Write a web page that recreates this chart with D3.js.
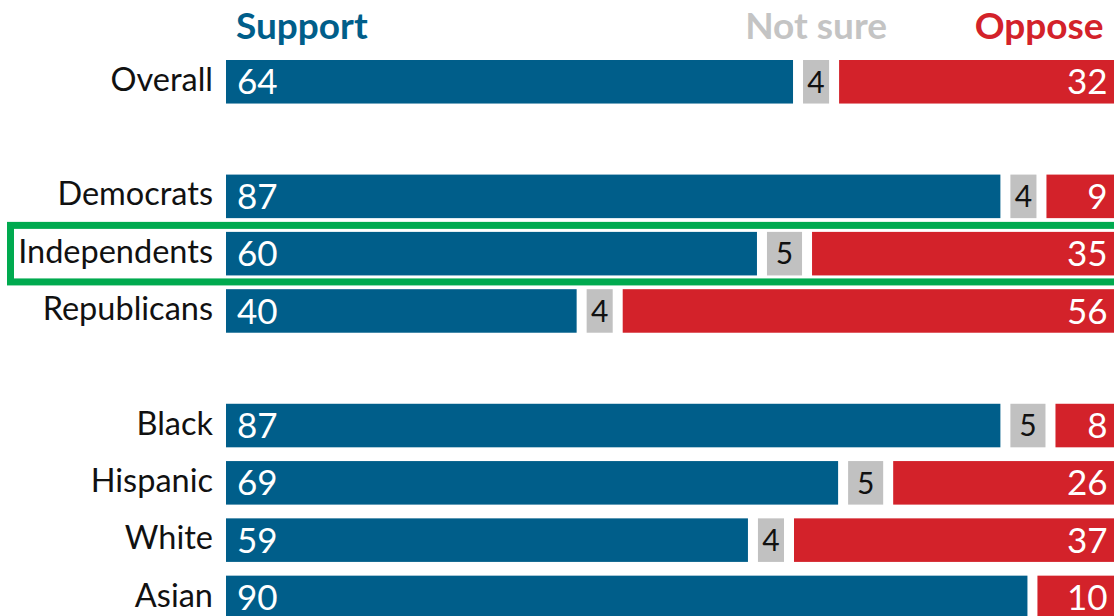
<!DOCTYPE html>
<html>
<head>
<meta charset="utf-8">
<script src="https://cdn.jsdelivr.net/npm/d3@7"></script>
<style>
  body { margin: 0; background: #fff; }
  svg { display: block; overflow: hidden; }
  text { font-family: Lato, "Noto Sans", sans-serif; }
</style>
</head>
<body>
<svg id="chart"></svg>
<script>
// data
var categories = ["Overall", "Democrats", "Independents", "Republicans", "Black", "Hispanic", "White", "Asian"];
var support = [64, 87, 60, 40, 87, 69, 59, 90];
var notSure = [4, 4, 5, 4, 5, 5, 4, 0];
var oppose = [32, 9, 35, 56, 8, 26, 37, 10];
var headers = ["Support", "Not sure", "Oppose"];
var highlighted = "Independents";

// rows incl. blank spacers between groups
var rowOrder = ["Overall", "gap1", "Democrats", "Independents", "Republicans", "gap2", "Black", "Hispanic", "White", "Asian"];

var colors = {support: "#005e8a", notSure: "#c1c1c1", oppose: "#d3222a", box: "#00aa4f"};

var width = 1114,
    height = 616,
    gap = 10;

var svg = d3.select("svg#chart")
    .attr("width", width)
    .attr("height", height);

var x = d3.scaleLinear()
    .domain([0, 100])
    .range([226, 1127.6]);

var y = d3.scaleBand()
    .domain(rowOrder)
    .range([60, 619.2])
    .paddingInner(0.24)
    .paddingOuter(0);

// build stacked segments
var segs = [];
categories.forEach(function(c, i) {
    var vals = [["support", support[i]], ["notSure", notSure[i]], ["oppose", oppose[i]]];
    var cum = 0;
    vals.forEach(function(v) {
        if (v[1] > 0) {
            segs.push({cat: c, key: v[0], value: v[1], x0: cum, x1: cum + v[1]});
        }
        cum += v[1];
    });
});

var segW = function(d) { return x(d.x1) - x(d.x0) - gap; };

svg.selectAll("rect.seg")
    .data(segs)
    .enter()
    .append("rect")
    .attr("class", "seg")
    .attr("x", function(d) { return x(d.x0); })
    .attr("y", function(d) { return y(d.cat); })
    .attr("width", segW)
    .attr("height", y.bandwidth())
    .attr("fill", function(d) { return colors[d.key]; });

// value labels
svg.selectAll("text.val")
    .data(segs)
    .enter()
    .append("text")
    .attr("class", "val")
    .attr("x", function(d) {
        if (d.key == "support") return x(d.x0) + 11;
        if (d.key == "oppose") return x(d.x1) - gap - 10;
        return x(d.x0) + segW(d) / 2;
    })
    .attr("y", function(d) { return y(d.cat) + y.bandwidth() / 2; })
    .attr("dy", "0.36em")
    .style("text-anchor", function(d) {
        return d.key == "support" ? "start" : (d.key == "oppose" ? "end" : "middle");
    })
    .style("font-size", function(d) { return d.key == "notSure" ? "30px" : "35px"; })
    .attr("fill", function(d) { return d.key == "notSure" ? "#111" : "#fff"; })
    .text(function(d) { return d.value; });

// category labels
svg.selectAll("text.cat")
    .data(categories)
    .enter()
    .append("text")
    .attr("class", "cat")
    .attr("x", 213)
    .attr("y", function(d) { return y(d) + y.bandwidth() / 2; })
    .attr("dy", "0.28em")
    .style("text-anchor", "end")
    .style("font-size", "32.5px")
    .attr("fill", "#111")
    .text(function(d) { return d; });

// column headers
var first = 0;
var hx = [x(0) + 10, (x(support[first]) + x(support[first] + notSure[first]) - gap) / 2, x(100) - gap - 14];
var hAnchor = ["start", "middle", "end"];
var hColor = [colors.support, "#c4c4c4", colors.oppose];

svg.selectAll("text.head")
    .data(headers)
    .enter()
    .append("text")
    .attr("class", "head")
    .attr("x", function(d, i) { return hx[i]; })
    .attr("y", 39)
    .style("text-anchor", function(d, i) { return hAnchor[i]; })
    .style("font-size", "37px")
    .style("font-weight", "bold")
    .attr("fill", function(d, i) { return hColor[i]; })
    .text(function(d) { return d; });

// highlight box
svg.append("rect")
    .attr("x", 10.5)
    .attr("y", y(highlighted) - 6.5)
    .attr("width", 1130)
    .attr("height", y.bandwidth() + 13)
    .attr("fill", "none")
    .attr("stroke", colors.box)
    .attr("stroke-width", 7);
</script>
</body>
</html>
